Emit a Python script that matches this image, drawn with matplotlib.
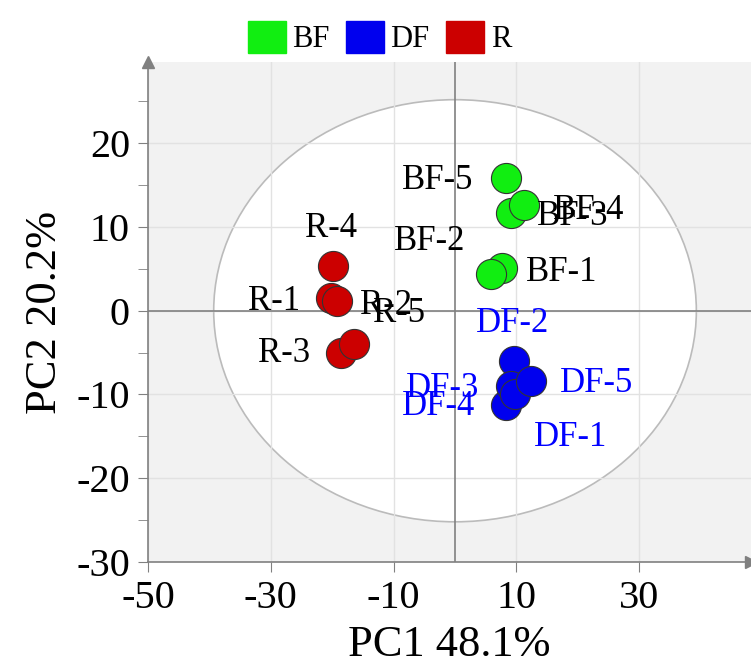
import matplotlib.pyplot as plt
from matplotlib.patches import Ellipse, Patch

plt.rcParams['font.family'] = ['Liberation Serif', 'DejaVu Serif']
plt.rcParams['axes.unicode_minus'] = False

# scores on the first two components
bf_x = [7.7, 5.8, 9.1, 11.2, 8.3]
bf_y = [5.1, 4.4, 11.7, 12.6, 15.9]
df_x = [8.3, 9.6, 9.1, 9.8, 12.3]
df_y = [-11.2, -6.0, -9.0, -10.0, -8.4]
r_x = [-20.2, -19.3, -18.6, -19.8, -16.4]
r_y = [1.55, 1.15, -5.0, 5.3, -4.0]

bf_names = ["BF-1", "BF-2", "BF-3", "BF-4", "BF-5"]
df_names = ["DF-1", "DF-2", "DF-3", "DF-4", "DF-5"]
r_names = ["R-1", "R-2", "R-3", "R-4", "R-5"]

# where each sample name sits
bf_lx = [17.4, -4.2, 19.1, 21.8, -2.9]
bf_ly = [5.1, 8.7, 11.7, 12.5, 16.0]
df_lx = [18.8, 9.3, -2.1, -2.6, 23.0]
df_ly = [-14.6, -1.1, -8.8, -11.0, -8.2]
r_lx = [-29.5, -11.3, -27.9, -20.2, -9.1]
r_ly = [1.55, 1.15, -4.6, 10.3, 0.15]

# Hotelling T2 ellipse semi-axes
ell_a = 39.3
ell_b = 25.2

x_ticks = [-50, -30, -10, 10, 30]
y_ticks = [-30, -20, -10, 0, 10, 20]
y_minor = [-25, -15, -5, 5, 15, 25]

groups = [
    ("BF", "#11ee11", "black", bf_x, bf_y, bf_names, bf_lx, bf_ly),
    ("DF", "#0000ee", "#0000ff", df_x, df_y, df_names, df_lx, df_ly),
    ("R", "#cc0000", "black", r_x, r_y, r_names, r_lx, r_ly),
]

fig = plt.figure(figsize=(7.51, 6.68), dpi=100)
ax = fig.add_axes([148 / 751, 106 / 668, 603 / 751, 500 / 668])
ax.set_facecolor("#f2f2f2")
ax.set_xlim(-50, 48.2)
ax.set_ylim(-30, 29.7)

ell = Ellipse((0, 0), 2 * ell_a, 2 * ell_b, facecolor="white",
              edgecolor="#bbbbbb", lw=1.2, zorder=0.2)
ax.add_patch(ell)

ax.set_axisbelow(True)
ax.grid(True, color="#e2e2e2", lw=1.0)
ax.axhline(0, color="#808080", lw=1.2, zorder=0.8)
ax.axvline(0, color="#808080", lw=1.2, zorder=0.8)

for name, fc, tc, xs, ys, names, lx, ly in groups:
    ax.scatter(xs, ys, s=470, color=fc, edgecolors="#333333",
               linewidths=0.8, zorder=3)
    for n, tx, ty in zip(names, lx, ly):
        ax.text(tx, ty, n, color=tc, fontsize=25, ha="center",
                va="center_baseline", zorder=4)

for s in ["top", "right"]:
    ax.spines[s].set_visible(False)
for s in ["left", "bottom"]:
    ax.spines[s].set_color("#808080")
    ax.spines[s].set_linewidth(1.2)
ax.plot(1, 0, ">", color="#808080", ms=9, transform=ax.transAxes,
        clip_on=False)
ax.plot(0, 1, "^", color="#808080", ms=9, transform=ax.transAxes,
        clip_on=False)

ax.set_xticks(x_ticks)
ax.set_yticks(y_ticks)
ax.set_yticks(y_minor, minor=True)
ax.tick_params(axis="both", which="both", direction="out", length=7,
               color="#808080", labelsize=29, pad=6)

ax.set_xlabel("PC1 48.1%", fontsize=32, labelpad=6)
ax.set_ylabel("PC2 20.2%", fontsize=32, labelpad=8)

handles = [Patch(facecolor=g[1], edgecolor=g[1]) for g in groups]
fig.legend(handles, [g[0] for g in groups], loc="upper center",
           bbox_to_anchor=(0.505, 1.01), ncol=3, frameon=False, fontsize=22,
           handlelength=1.25, handleheight=1.25, handletextpad=0.2,
           columnspacing=0.55)

fig.savefig("out.png", dpi=100)
